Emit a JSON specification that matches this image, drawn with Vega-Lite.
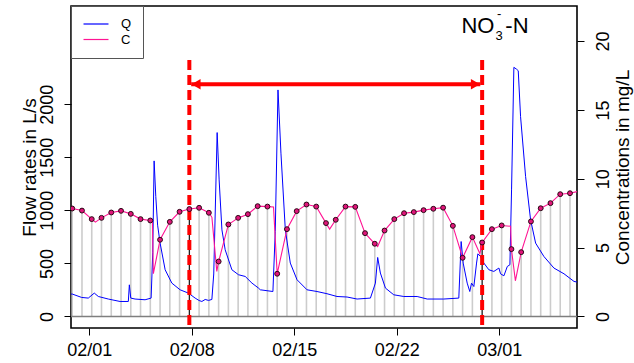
{
  "$schema": "https://vega.github.io/schema/vega-lite/v6.json",
  "width": 506,
  "height": 322,
  "autosize": {"type": "none"},
  "padding": {"left": 71, "top": 6, "right": 57, "bottom": 35},
  "background": "white",
  "config": {
    "font": "Liberation Sans",
    "view": {"stroke": "black", "strokeWidth": 1.6},
    "axis": {
      "grid": false,
      "domain": false,
      "tickSize": 7,
      "tickColor": "black",
      "tickWidth": 1,
      "labelFont": "Liberation Sans",
      "labelFontSize": 18,
      "labelColor": "black",
      "titleFont": "Liberation Sans",
      "titleFontSize": 19,
      "titleFontWeight": "normal",
      "titleColor": "black"
    },
    "legend": {
      "labelFont": "Liberation Sans",
      "labelFontSize": 13,
      "labelColor": "black"
    }
  },
  "datasets": {
    "flow": [
      {"t": "2019-01-30T18:00", "Q": 211},
      {"t": "2019-01-30T20:05", "Q": 211},
      {"t": "2019-01-31T11:30", "Q": 179},
      {"t": "2019-01-31T22:20", "Q": 173},
      {"t": "2019-02-01T08:10", "Q": 220},
      {"t": "2019-02-01T14:50", "Q": 188},
      {"t": "2019-02-02T07:10", "Q": 164},
      {"t": "2019-02-03T02:25", "Q": 141},
      {"t": "2019-02-03T16:00", "Q": 141},
      {"t": "2019-02-03T17:40", "Q": 298},
      {"t": "2019-02-03T20:00", "Q": 173},
      {"t": "2019-02-04T03:00", "Q": 164},
      {"t": "2019-02-04T19:25", "Q": 157},
      {"t": "2019-02-05T05:20", "Q": 173},
      {"t": "2019-02-05T08:00", "Q": 600},
      {"t": "2019-02-05T10:15", "Q": 1466},
      {"t": "2019-02-05T13:00", "Q": 1130},
      {"t": "2019-02-05T16:00", "Q": 860},
      {"t": "2019-02-05T20:05", "Q": 691},
      {"t": "2019-02-06T04:20", "Q": 440},
      {"t": "2019-02-06T15:20", "Q": 314},
      {"t": "2019-02-07T04:50", "Q": 251},
      {"t": "2019-02-07T18:30", "Q": 220},
      {"t": "2019-02-08T05:30", "Q": 173},
      {"t": "2019-02-08T12:00", "Q": 150},
      {"t": "2019-02-08T16:30", "Q": 141},
      {"t": "2019-02-08T22:00", "Q": 160},
      {"t": "2019-02-09T03:20", "Q": 151},
      {"t": "2019-02-09T08:55", "Q": 160},
      {"t": "2019-02-09T12:00", "Q": 400},
      {"t": "2019-02-09T17:35", "Q": 1733},
      {"t": "2019-02-09T20:50", "Q": 1287},
      {"t": "2019-02-10T01:25", "Q": 816},
      {"t": "2019-02-10T06:45", "Q": 628},
      {"t": "2019-02-10T17:45", "Q": 440},
      {"t": "2019-02-11T04:35", "Q": 393},
      {"t": "2019-02-11T15:35", "Q": 377},
      {"t": "2019-02-12T02:40", "Q": 314},
      {"t": "2019-02-12T13:25", "Q": 267},
      {"t": "2019-02-12T16:20", "Q": 251},
      {"t": "2019-02-13T13:00", "Q": 235},
      {"t": "2019-02-13T16:50", "Q": 800},
      {"t": "2019-02-13T21:20", "Q": 2135},
      {"t": "2019-02-14T02:10", "Q": 1539},
      {"t": "2019-02-14T09:20", "Q": 816},
      {"t": "2019-02-14T17:30", "Q": 503},
      {"t": "2019-02-15T04:30", "Q": 346},
      {"t": "2019-02-15T20:55", "Q": 251},
      {"t": "2019-02-16T13:15", "Q": 235},
      {"t": "2019-02-17T05:40", "Q": 214},
      {"t": "2019-02-17T22:05", "Q": 188},
      {"t": "2019-02-18T14:35", "Q": 183},
      {"t": "2019-02-19T07:00", "Q": 164},
      {"t": "2019-02-20T04:50", "Q": 173},
      {"t": "2019-02-20T13:00", "Q": 314},
      {"t": "2019-02-20T16:45", "Q": 556},
      {"t": "2019-02-20T21:10", "Q": 409},
      {"t": "2019-02-21T05:30", "Q": 267},
      {"t": "2019-02-21T19:05", "Q": 204},
      {"t": "2019-02-22T11:30", "Q": 188},
      {"t": "2019-02-23T09:25", "Q": 188},
      {"t": "2019-02-24T01:55", "Q": 164},
      {"t": "2019-02-25T05:05", "Q": 164},
      {"t": "2019-02-26T05:45", "Q": 173},
      {"t": "2019-02-26T09:35", "Q": 706},
      {"t": "2019-02-26T12:55", "Q": 503},
      {"t": "2019-02-26T19:30", "Q": 314},
      {"t": "2019-02-26T23:45", "Q": 235},
      {"t": "2019-02-27T02:35", "Q": 314},
      {"t": "2019-02-27T06:25", "Q": 282},
      {"t": "2019-02-27T10:50", "Q": 503},
      {"t": "2019-02-27T13:00", "Q": 590},
      {"t": "2019-02-27T17:20", "Q": 565},
      {"t": "2019-02-27T22:50", "Q": 503},
      {"t": "2019-02-28T07:00", "Q": 440},
      {"t": "2019-02-28T15:10", "Q": 424},
      {"t": "2019-02-28T23:30", "Q": 456},
      {"t": "2019-03-01T02:10", "Q": 402},
      {"t": "2019-03-01T07:40", "Q": 383},
      {"t": "2019-03-01T13:15", "Q": 471},
      {"t": "2019-03-01T17:30", "Q": 487},
      {"t": "2019-03-01T20:15", "Q": 1200},
      {"t": "2019-03-02T00:00", "Q": 2348},
      {"t": "2019-03-02T04:30", "Q": 2330},
      {"t": "2019-03-02T07:10", "Q": 2316},
      {"t": "2019-03-02T11:00", "Q": 1883},
      {"t": "2019-03-02T19:15", "Q": 1318},
      {"t": "2019-03-03T03:25", "Q": 911},
      {"t": "2019-03-03T11:40", "Q": 691},
      {"t": "2019-03-04T01:15", "Q": 565},
      {"t": "2019-03-04T17:40", "Q": 456},
      {"t": "2019-03-05T10:10", "Q": 402},
      {"t": "2019-03-06T02:35", "Q": 330},
      {"t": "2019-03-06T07:30", "Q": 324}
    ],
    "samples": [
      {"t": "2019-01-30T20:00", "C": 7.84},
      {"t": "2019-01-31T12:00", "C": 7.69},
      {"t": "2019-02-01T04:00", "C": 7.07},
      {"t": "2019-02-01T20:00", "C": 7.16},
      {"t": "2019-02-02T12:00", "C": 7.55},
      {"t": "2019-02-03T04:00", "C": 7.67},
      {"t": "2019-02-03T20:00", "C": 7.45},
      {"t": "2019-02-04T12:00", "C": 7.07},
      {"t": "2019-02-05T04:00", "C": 6.97},
      {"t": "2019-02-05T20:00", "C": 5.57},
      {"t": "2019-02-06T12:00", "C": 6.87},
      {"t": "2019-02-07T04:00", "C": 7.6},
      {"t": "2019-02-07T20:00", "C": 7.8},
      {"t": "2019-02-08T12:00", "C": 7.89},
      {"t": "2019-02-09T04:00", "C": 7.53},
      {"t": "2019-02-09T20:00", "C": 3.99},
      {"t": "2019-02-10T12:00", "C": 6.68},
      {"t": "2019-02-11T04:00", "C": 7.16},
      {"t": "2019-02-11T20:00", "C": 7.43},
      {"t": "2019-02-12T12:00", "C": 8.01},
      {"t": "2019-02-13T04:00", "C": 7.98},
      {"t": "2019-02-13T20:00", "C": 3.1},
      {"t": "2019-02-14T12:00", "C": 6.34},
      {"t": "2019-02-15T04:00", "C": 7.65},
      {"t": "2019-02-15T20:00", "C": 8.13},
      {"t": "2019-02-16T12:00", "C": 7.98},
      {"t": "2019-02-17T04:00", "C": 6.78},
      {"t": "2019-02-17T20:00", "C": 7.02},
      {"t": "2019-02-18T12:00", "C": 7.98},
      {"t": "2019-02-19T04:00", "C": 7.96},
      {"t": "2019-02-19T20:00", "C": 6.05},
      {"t": "2019-02-20T12:00", "C": 5.28},
      {"t": "2019-02-21T04:00", "C": 6.24},
      {"t": "2019-02-21T20:00", "C": 7.07},
      {"t": "2019-02-22T12:00", "C": 7.5},
      {"t": "2019-02-23T04:00", "C": 7.58},
      {"t": "2019-02-23T20:00", "C": 7.72},
      {"t": "2019-02-24T12:00", "C": 7.82},
      {"t": "2019-02-25T04:00", "C": 7.9},
      {"t": "2019-02-25T20:00", "C": 6.58},
      {"t": "2019-02-26T12:00", "C": 4.26},
      {"t": "2019-02-27T04:00", "C": 5.76},
      {"t": "2019-02-27T20:00", "C": 5.37},
      {"t": "2019-02-28T12:00", "C": 6.34},
      {"t": "2019-03-01T04:00", "C": 6.61},
      {"t": "2019-03-01T20:00", "C": 4.89},
      {"t": "2019-03-02T12:00", "C": 4.67},
      {"t": "2019-03-03T04:00", "C": 6.9},
      {"t": "2019-03-03T20:00", "C": 7.86},
      {"t": "2019-03-04T12:00", "C": 8.23},
      {"t": "2019-03-05T04:00", "C": 8.88},
      {"t": "2019-03-05T20:00", "C": 8.95}
    ],
    "conc": [
      {"t": "2019-01-30T18:00", "C": 7.85},
      {"t": "2019-01-30T20:00", "C": 7.84},
      {"t": "2019-01-31T12:00", "C": 7.69},
      {"t": "2019-02-01T04:00", "C": 7.07},
      {"t": "2019-02-01T10:00", "C": 6.85},
      {"t": "2019-02-01T20:00", "C": 7.16},
      {"t": "2019-02-02T12:00", "C": 7.55},
      {"t": "2019-02-03T04:00", "C": 7.67},
      {"t": "2019-02-03T20:00", "C": 7.45},
      {"t": "2019-02-04T12:00", "C": 7.07},
      {"t": "2019-02-05T04:00", "C": 6.97},
      {"t": "2019-02-05T07:30", "C": 6.8},
      {"t": "2019-02-05T09:00", "C": 3.1},
      {"t": "2019-02-05T20:00", "C": 5.57},
      {"t": "2019-02-06T12:00", "C": 6.87},
      {"t": "2019-02-07T04:00", "C": 7.6},
      {"t": "2019-02-07T20:00", "C": 7.8},
      {"t": "2019-02-08T12:00", "C": 7.89},
      {"t": "2019-02-09T04:00", "C": 7.53},
      {"t": "2019-02-09T09:00", "C": 7.2},
      {"t": "2019-02-09T17:00", "C": 3.27},
      {"t": "2019-02-09T20:00", "C": 3.99},
      {"t": "2019-02-10T12:00", "C": 6.68},
      {"t": "2019-02-11T04:00", "C": 7.16},
      {"t": "2019-02-11T20:00", "C": 7.43},
      {"t": "2019-02-12T12:00", "C": 8.01},
      {"t": "2019-02-13T04:00", "C": 7.98},
      {"t": "2019-02-13T14:00", "C": 7.95},
      {"t": "2019-02-13T20:00", "C": 3.1},
      {"t": "2019-02-14T12:00", "C": 6.34},
      {"t": "2019-02-15T04:00", "C": 7.65},
      {"t": "2019-02-15T20:00", "C": 8.13},
      {"t": "2019-02-16T12:00", "C": 7.98},
      {"t": "2019-02-17T04:00", "C": 6.78},
      {"t": "2019-02-17T10:00", "C": 6.34},
      {"t": "2019-02-17T20:00", "C": 7.02},
      {"t": "2019-02-18T12:00", "C": 7.98},
      {"t": "2019-02-19T04:00", "C": 7.96},
      {"t": "2019-02-19T20:00", "C": 6.05},
      {"t": "2019-02-20T12:00", "C": 5.28},
      {"t": "2019-02-20T16:45", "C": 5.08},
      {"t": "2019-02-21T04:00", "C": 6.24},
      {"t": "2019-02-21T20:00", "C": 7.07},
      {"t": "2019-02-22T12:00", "C": 7.5},
      {"t": "2019-02-23T04:00", "C": 7.58},
      {"t": "2019-02-23T20:00", "C": 7.72},
      {"t": "2019-02-24T12:00", "C": 7.82},
      {"t": "2019-02-25T04:00", "C": 7.9},
      {"t": "2019-02-25T20:00", "C": 6.58},
      {"t": "2019-02-26T12:00", "C": 4.26},
      {"t": "2019-02-27T04:00", "C": 5.76},
      {"t": "2019-02-27T16:20", "C": 4.55},
      {"t": "2019-02-27T20:00", "C": 5.37},
      {"t": "2019-02-28T12:00", "C": 6.34},
      {"t": "2019-03-01T04:00", "C": 6.61},
      {"t": "2019-03-01T18:40", "C": 6.55},
      {"t": "2019-03-01T20:00", "C": 4.89},
      {"t": "2019-03-02T02:30", "C": 2.59},
      {"t": "2019-03-02T12:00", "C": 4.67},
      {"t": "2019-03-03T04:00", "C": 6.9},
      {"t": "2019-03-03T20:00", "C": 7.86},
      {"t": "2019-03-04T12:00", "C": 8.23},
      {"t": "2019-03-05T04:00", "C": 8.88},
      {"t": "2019-03-05T20:00", "C": 8.95},
      {"t": "2019-03-06T07:30", "C": 9.07}
    ],
    "period": [
      {"t": "2019-02-07T20:00"},
      {"t": "2019-02-27T20:00"}
    ]
  },
  "layer": [
    {
      "layer": [
        {
          "data": {"name": "samples"},
          "mark": {"type": "rule", "color": "#cccccc", "strokeWidth": 1.6, "clip": true},
          "encoding": {
            "x": {"field": "t", "type": "temporal"},
            "y": {"field": "C", "type": "quantitative", "scale": {"domain": [-0.84, 22.55], "nice": false, "zero": false}, "axis": null},
            "y2": {"datum": 0}
          }
        },
        {
          "data": {"name": "samples"},
          "transform": [{"filter": "time(datum.t) == time(datetime(2019, 1, 7, 20)) || time(datum.t) == time(datetime(2019, 1, 27, 20))"}],
          "mark": {"type": "rule", "color": "black", "strokeWidth": 1, "clip": true},
          "encoding": {
            "x": {"field": "t", "type": "temporal"},
            "y": {"field": "C", "type": "quantitative", "axis": null},
            "y2": {"datum": 0}
          }
        },
        {
          "data": {"values": [{"base": 0}]},
          "mark": {"type": "rule", "color": "#7f7f7f", "strokeWidth": 1.4},
          "encoding": {
            "y": {"field": "base", "type": "quantitative", "axis": null}
          }
        }
      ]
    },
    {
      "layer": [
        {
          "data": {"name": "flow"},
          "mark": {"type": "line", "strokeWidth": 1, "clip": true},
          "encoding": {
            "x": {
              "field": "t",
              "type": "temporal",
              "scale": {
                "domain": [
                  {"year": 2019, "month": 1, "date": 30, "hours": 18},
                  {"year": 2019, "month": 3, "date": 6, "hours": 7, "minutes": 30}
                ],
                "nice": false
              },
              "axis": {
                "orient": "bottom",
                "title": null,
                "format": "%m/%d",
                "values": [
                  {"year": 2019, "month": 2, "date": 1},
                  {"year": 2019, "month": 2, "date": 8},
                  {"year": 2019, "month": 2, "date": 15},
                  {"year": 2019, "month": 2, "date": 22},
                  {"year": 2019, "month": 3, "date": 1}
                ],
                "labelPadding": 6,
                "labelFlush": false
              }
            },
            "y": {
              "field": "Q",
              "type": "quantitative",
              "scale": {"domain": [-109, 2926], "nice": false, "zero": false},
              "axis": {
                "orient": "left",
                "title": "Flow rates in L/s",
                "values": [0, 500, 1000, 1500, 2000],
                "format": "d",
                "labelAngle": -90,
                "labelAlign": "center",
                "labelBaseline": "alphabetic",
                "labelPadding": 12,
                "titleAngle": -90,
                "titleAlign": "center",
                "titleBaseline": "alphabetic",
                "titlePadding": 3,
                "titleY": 161
              }
            },
            "color": {
              "datum": "Q",
              "type": "nominal",
              "scale": {"domain": ["Q", "C"], "range": ["#0000ff", "#ff1493"]},
              "legend": {
                "title": null,
                "orient": "none",
                "legendX": 0,
                "legendY": 0,
                "symbolType": "M-2,0H2",
                "symbolSize": 156,
                "symbolOffset": 7,
                "symbolStrokeWidth": 1.2,
                "strokeColor": "#555555",
                "fillColor": "white",
                "padding": 11,
                "rowPadding": 1.5,
                "labelOffset": 18
              }
            }
          }
        },
        {
          "data": {"name": "period"},
          "mark": {"type": "rule", "color": "#ff0000", "strokeWidth": 4, "strokeDash": [10, 5]},
          "encoding": {
            "x": {"field": "t", "type": "temporal"},
            "y": {"datum": 2417, "type": "quantitative"},
            "y2": {"datum": -109}
          }
        },
        {
          "data": {"values": [{}]},
          "mark": {"type": "rule", "color": "#ff0000", "strokeWidth": 4},
          "encoding": {
            "x": {"datum": {"year": 2019, "month": 2, "date": 7, "hours": 23}, "type": "temporal"},
            "x2": {"datum": {"year": 2019, "month": 2, "date": 27, "hours": 17}},
            "y": {"datum": 2188, "type": "quantitative"}
          }
        },
        {
          "data": {"values": [{}]},
          "mark": {"type": "point", "shape": "triangle-left", "filled": true, "color": "#ff0000", "size": 110, "opacity": 1},
          "encoding": {
            "x": {"datum": {"year": 2019, "month": 2, "date": 8, "hours": 7}, "type": "temporal"},
            "y": {"datum": 2188, "type": "quantitative"}
          }
        },
        {
          "data": {"values": [{}]},
          "mark": {"type": "point", "shape": "triangle-right", "filled": true, "color": "#ff0000", "size": 110, "opacity": 1},
          "encoding": {
            "x": {"datum": {"year": 2019, "month": 2, "date": 27, "hours": 9}, "type": "temporal"},
            "y": {"datum": 2188, "type": "quantitative"}
          }
        },
        {
          "data": {"values": [{}]},
          "mark": {"type": "text", "text": "NO", "fontSize": 22, "align": "left", "baseline": "alphabetic", "color": "black"},
          "encoding": {
            "x": {"datum": {"year": 2019, "month": 2, "date": 26, "hours": 10}, "type": "temporal"},
            "y": {"datum": 2669, "type": "quantitative"}
          }
        },
        {
          "data": {"values": [{}]},
          "mark": {"type": "text", "text": "3", "fontSize": 13, "align": "left", "baseline": "alphabetic", "color": "black"},
          "encoding": {
            "x": {"datum": {"year": 2019, "month": 2, "date": 28, "hours": 18}, "type": "temporal"},
            "y": {"datum": 2605, "type": "quantitative"}
          }
        },
        {
          "data": {"values": [{}]},
          "mark": {"type": "text", "text": "-", "fontSize": 13, "align": "center", "baseline": "alphabetic", "color": "black"},
          "encoding": {
            "x": {"datum": {"year": 2019, "month": 3, "date": 1, "hours": 0}, "type": "temporal"},
            "y": {"datum": 2813, "type": "quantitative"}
          }
        },
        {
          "data": {"values": [{}]},
          "mark": {"type": "text", "text": "-N", "fontSize": 22, "align": "left", "baseline": "alphabetic", "color": "black"},
          "encoding": {
            "x": {"datum": {"year": 2019, "month": 3, "date": 1, "hours": 10}, "type": "temporal"},
            "y": {"datum": 2669, "type": "quantitative"}
          }
        }
      ]
    },
    {
      "layer": [
        {
          "data": {"name": "conc"},
          "mark": {"type": "line", "strokeWidth": 1.1, "clip": true},
          "encoding": {
            "x": {"field": "t", "type": "temporal"},
            "y": {
              "field": "C",
              "type": "quantitative",
              "scale": {"domain": [-0.84, 22.55], "nice": false, "zero": false},
              "axis": {
                "orient": "right",
                "title": "Concentrations in mg/L",
                "values": [0, 5, 10, 15, 20],
                "labelAngle": -90,
                "labelAlign": "center",
                "labelBaseline": "top",
                "labelPadding": 10,
                "titleAngle": -90,
                "titleAlign": "center",
                "titleBaseline": "alphabetic",
                "titlePadding": 16,
                "titleY": 161
              }
            },
            "color": {"datum": "C", "type": "nominal"}
          }
        },
        {
          "data": {"name": "samples"},
          "mark": {"type": "point", "filled": true, "fill": "#e0157a", "stroke": "#2a0614", "strokeWidth": 1, "size": 24, "opacity": 1, "clip": true},
          "encoding": {
            "x": {"field": "t", "type": "temporal"},
            "y": {"field": "C", "type": "quantitative"}
          }
        }
      ]
    }
  ],
  "resolve": {"scale": {"y": "independent"}}
}
